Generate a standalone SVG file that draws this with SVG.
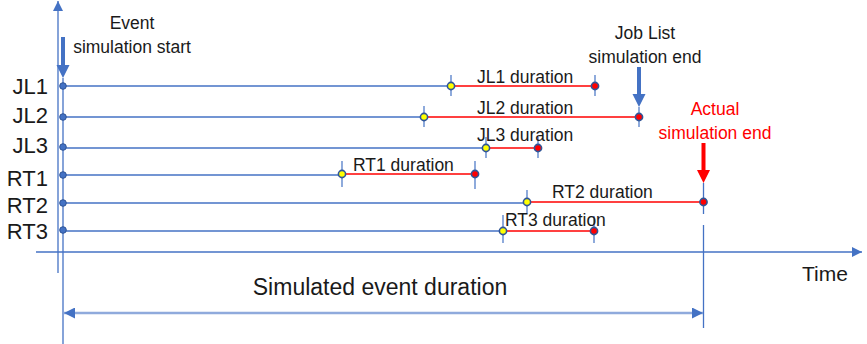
<svg xmlns="http://www.w3.org/2000/svg" width="867" height="344" viewBox="0 0 867 344">
<style>
text{font-family:"Liberation Sans",Arial,sans-serif;fill:#1a1a1a}
.row{font-size:22px;text-anchor:end}
.dur{font-size:17.5px}
.ann{font-size:17.5px;text-anchor:middle}
.red{fill:#ff0000}
.bl{stroke:#4472c4;stroke-width:1.3;fill:none}
.rl{stroke:#ff0000;stroke-width:1.6;fill:none}
.tk{stroke:#4472c4;stroke-width:1.2}
.s0{fill:#4472c4;stroke:#2f5597;stroke-width:1}
.sy{fill:#ffff00;stroke:#2f5597;stroke-width:1.6}
.sr{fill:#ff0000;stroke:#2f5597;stroke-width:1.6}
</style>
<defs>
<marker id="ah" viewBox="0 0 10 10" refX="10" refY="5" markerWidth="10" markerHeight="10" markerUnits="userSpaceOnUse" orient="auto-start-reverse">
<path d="M0,0L10,5L0,10z" fill="#4472c4"/>
</marker>
<marker id="ah2" viewBox="0 0 10 10" refX="10" refY="5" markerWidth="11" markerHeight="11" markerUnits="userSpaceOnUse" orient="auto-start-reverse">
<path d="M0,0L10,5L0,10z" fill="#4472c4"/>
</marker>
</defs>
<g id="connectors">
<line x1="58" y1="273" x2="58" y2="1" class="bl" marker-end="url(#ah)"/>
<line x1="36" y1="252" x2="862" y2="252" class="bl" marker-end="url(#ah)"/>
<line x1="63" y1="78" x2="63" y2="344" class="bl"/>
<line x1="703.5" y1="183" x2="703.5" y2="214" class="bl"/>
<line x1="703.5" y1="225" x2="703.5" y2="328" class="bl"/>
<line x1="64" y1="313" x2="703" y2="313" stroke="#8faadc" stroke-width="2.5" marker-start="url(#ah2)" marker-end="url(#ah2)"/>
<polygon points="61,37 65,37 65,65 69.5,65 63,78 56.5,65 61,65" fill="#4472c4"/>
<polygon points="637,67 641,67 641,94 645.5,94 639,107 632.5,94 637,94" fill="#4472c4"/>
<polygon points="701.5,143 705.5,143 705.5,170 710,170 703.5,183 697,170 701.5,170" fill="#ff0000"/>
</g>
<g id="labels">
<text class="ann" x="132" y="29">Event</text>
<text class="ann" x="132" y="53">simulation start</text>
<text class="ann" x="645" y="39">Job List</text>
<text class="ann" x="645" y="63">simulation end</text>
<text class="ann red" x="715" y="115">Actual</text>
<text class="ann red" x="715" y="139">simulation end</text>
<text x="802" y="281" font-size="21">Time</text>
<text x="380" y="295" font-size="23" text-anchor="middle">Simulated event duration</text>
</g>
<g id="JL1">
<text class="row" x="48" y="94">JL1</text>
<line x1="63" y1="86" x2="451" y2="86" class="bl"/>
<line x1="451" y1="86" x2="595" y2="86" class="rl"/>
<line x1="451" y1="75" x2="451" y2="96" class="tk"/>
<line x1="595" y1="75" x2="595" y2="96" class="tk"/>
<circle cx="63" cy="86" r="3.3" class="s0"/>
<circle cx="451" cy="86" r="3.6" class="sy"/>
<circle cx="595" cy="86" r="3.6" class="sr"/>
<text class="dur" x="477" y="83">JL1 duration</text>
</g>
<g id="JL2">
<text class="row" x="48" y="123">JL2</text>
<line x1="63" y1="117" x2="424" y2="117" class="bl"/>
<line x1="424" y1="117" x2="639" y2="117" class="rl"/>
<line x1="424" y1="106" x2="424" y2="127" class="tk"/>
<line x1="639" y1="107" x2="639" y2="127" class="tk"/>
<circle cx="63" cy="117" r="3.3" class="s0"/>
<circle cx="424" cy="117" r="3.6" class="sy"/>
<circle cx="639" cy="117" r="3.6" class="sr"/>
<text class="dur" x="477" y="114">JL2 duration</text>
</g>
<g id="JL3">
<text class="row" x="48" y="153">JL3</text>
<line x1="63" y1="148" x2="486" y2="148" class="bl"/>
<line x1="486" y1="148" x2="538" y2="148" class="rl"/>
<line x1="486" y1="137" x2="486" y2="158" class="tk"/>
<line x1="538" y1="137" x2="538" y2="158" class="tk"/>
<circle cx="63" cy="147" r="3.3" class="s0"/>
<circle cx="486" cy="148" r="3.6" class="sy"/>
<circle cx="538" cy="148" r="3.6" class="sr"/>
<text class="dur" x="477" y="141">JL3 duration</text>
</g>
<g id="RT1">
<text class="row" x="48" y="186">RT1</text>
<line x1="63" y1="175" x2="342" y2="175" class="bl"/>
<line x1="342" y1="174" x2="475" y2="174" class="rl"/>
<line x1="342" y1="161" x2="342" y2="187" class="tk"/>
<line x1="475" y1="161" x2="475" y2="189" class="tk"/>
<circle cx="63" cy="175" r="3.3" class="s0"/>
<circle cx="342" cy="174" r="3.6" class="sy"/>
<circle cx="475" cy="174" r="3.6" class="sr"/>
<text class="dur" x="353" y="171">RT1 duration</text>
</g>
<g id="RT2">
<text class="row" x="48" y="213">RT2</text>
<line x1="63" y1="203" x2="527" y2="203" class="bl"/>
<line x1="527" y1="202" x2="703" y2="202" class="rl"/>
<line x1="527" y1="190" x2="527" y2="213" class="tk"/>
<circle cx="63" cy="203" r="3.3" class="s0"/>
<circle cx="527" cy="202" r="3.6" class="sy"/>
<circle cx="703.5" cy="202" r="3.6" class="sr"/>
<text class="dur" x="552" y="198">RT2 duration</text>
</g>
<g id="RT3">
<text class="row" x="48" y="239">RT3</text>
<line x1="63" y1="231" x2="503" y2="231" class="bl"/>
<line x1="503" y1="231" x2="594" y2="231" class="rl"/>
<line x1="503" y1="215" x2="503" y2="243" class="tk"/>
<line x1="594" y1="216" x2="594" y2="243" class="tk"/>
<circle cx="63" cy="230" r="3.3" class="s0"/>
<circle cx="503" cy="231" r="3.6" class="sy"/>
<circle cx="594" cy="231" r="3.6" class="sr"/>
<text class="dur" x="505" y="226">RT3 duration</text>
</g>
</svg>
